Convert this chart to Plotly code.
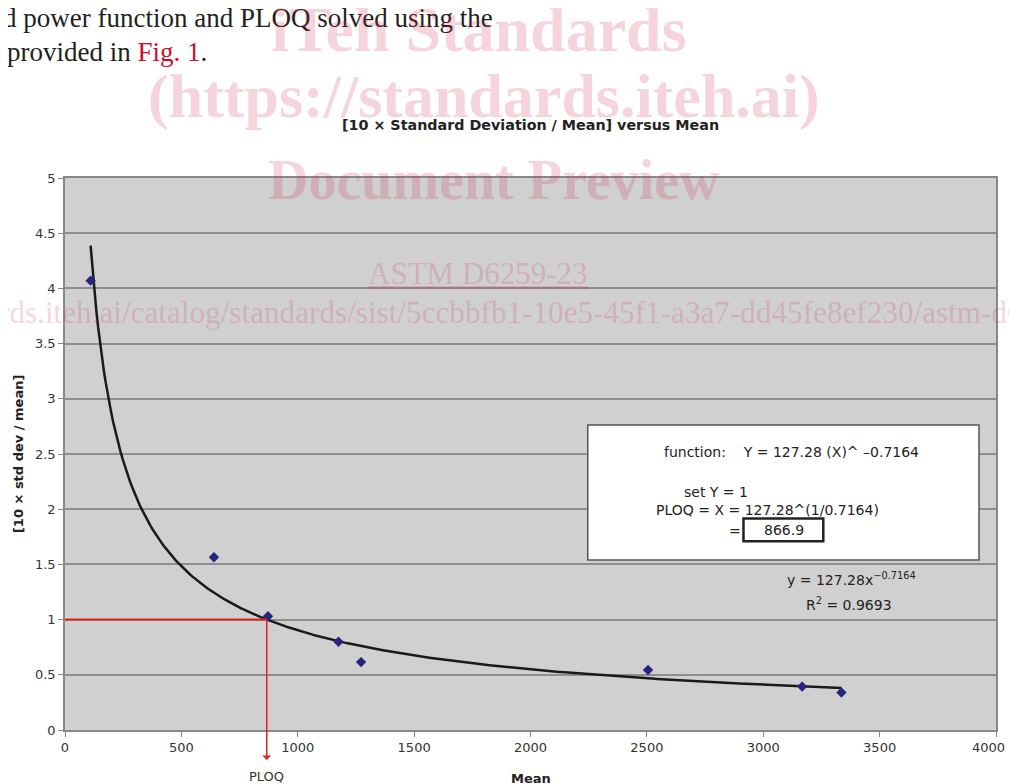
import numpy as np
import plotly.graph_objects as go

# Data
mean_vals = [110, 640, 872, 1175, 1272, 2505, 3167, 3336]
cv10_vals = [4.07, 1.565, 1.03, 0.80, 0.615, 0.543, 0.393, 0.340]

# Fitted power trendline stated on the chart: y = a * x^b
fit_a = 127.28
fit_b = -0.7164
ploq = 866.9

x_ticks = [0, 500, 1000, 1500, 2000, 2500, 3000, 3500, 4000]
x_tick_text = ["0", "500", "1000", "1500", "2000", "2500", "3000", "3500", ""]
last_x_label = "4000"
y_ticks = [0, 0.5, 1, 1.5, 2, 2.5, 3, 3.5, 4, 4.5, 5]

CHART_FONT = "DejaVu Sans"
SERIF = "Liberation Serif"

# Page has an 8px body margin; figure sized to fit the window
OFF = 8
W, H = 1001, 776
ML, MT, MR, MB = 57, 170, 11, 54
PW = W - ML - MR
PH = H - MT - MB


def px(sx):
    return (sx - OFF - ML) / PW


def py(sy):
    return 1 - (sy - OFF - MT) / PH


fig = go.Figure()

xs = np.linspace(min(mean_vals), max(mean_vals), 400)
fig.add_trace(go.Scatter(x=xs, y=fit_a * xs ** fit_b, mode="lines",
                         line=dict(color="#1a1a1a", width=2.5), showlegend=False,
                         hoverinfo="skip"))
fig.add_trace(go.Scatter(x=mean_vals, y=cv10_vals, mode="markers",
                         marker=dict(symbol="diamond", size=8, color="#252580"),
                         showlegend=False))

# Red PLOQ guide lines
fig.add_shape(type="line", x0=0, x1=ploq, y0=1, y1=1, xref="x", yref="y",
              line=dict(color="#e0231b", width=2))
fig.add_annotation(x=ploq, y=1, xref="x", yref="y", ax=0, ay=142, text="",
                   showarrow=True, arrowside="start", arrowhead=2, arrowsize=1.2,
                   arrowwidth=1.5, arrowcolor="#e0231b")

# White info box
fig.add_shape(type="rect", x0=2246, x1=3927, y0=1.54, y1=2.763, xref="x", yref="y",
              fillcolor="white", line=dict(color="#555", width=1.5))
fig.add_shape(type="rect", x0=2915, x1=3258, y0=1.71, y1=1.915, xref="x", yref="y",
              fillcolor="white", line=dict(color="#222", width=2.5))

box_font = dict(family=CHART_FONT, size=14, color="#222")
fig.add_annotation(x=3120, y=2.515, xref="x", yref="y", showarrow=False, font=box_font,
                   text="function:    Y = 127.28 (X)^ \u20130.7164")
fig.add_annotation(x=2795, y=2.155, xref="x", yref="y", showarrow=False, font=box_font,
                   text="set Y = 1")
fig.add_annotation(x=3020, y=1.99, xref="x", yref="y", showarrow=False, font=box_font,
                   text="PLOQ = X = 127.28^(1/0.7164)")
fig.add_annotation(x=2880, y=1.805, xref="x", yref="y", showarrow=False, font=box_font,
                   text="=")
fig.add_annotation(x=3087, y=1.81, xref="x", yref="y", showarrow=False, font=box_font,
                   text="866.9")

# Trendline equation
fig.add_annotation(x=3378, y=1.365, xref="x", yref="y", showarrow=False, font=box_font,
                   text="y = 127.28x<sup>\u22120.7164</sup>")
fig.add_annotation(x=3368, y=1.145, xref="x", yref="y", showarrow=False, font=box_font,
                   text="R<sup>2</sup> = 0.9693")

# Last x tick label (kept inside the page edge)
fig.add_annotation(x=px(1009), y=py(747), xref="paper", yref="paper", showarrow=False,
                   xanchor="right", yanchor="middle",
                   font=dict(family=CHART_FONT, size=13, color="#333"), text=last_x_label)

# Labels
fig.add_annotation(x=ploq, y=py(776), xref="x", yref="paper", showarrow=False,
                   yanchor="middle", font=dict(family=CHART_FONT, size=13, color="#333"),
                   text="PLOQ")
fig.add_annotation(x=2000, y=py(778), xref="x", yref="paper", showarrow=False,
                   yanchor="middle", font=dict(family=CHART_FONT, size=13, color="#222"),
                   text="<b>Mean</b>")
fig.add_annotation(x=px(18), y=0.5, xref="paper", yref="paper", showarrow=False,
                   xanchor="center", yanchor="middle", textangle=-90,
                   font=dict(family=CHART_FONT, size=13, color="#222"),
                   text="<b>[10 \u00d7 std dev / mean]</b>")
fig.add_annotation(x=px(532), y=py(125), xref="paper", yref="paper", showarrow=False,
                   xanchor="center", yanchor="middle",
                   font=dict(family=CHART_FONT, size=14.3, color="#222"),
                   text="<b>[10 \u00d7 Standard Deviation / Mean] versus Mean</b>")

# Document text above the chart
fig.add_annotation(x=px(1), y=py(18), xref="paper", yref="paper", showarrow=False,
                   xanchor="left", yanchor="middle",
                   font=dict(family=SERIF, size=27, color="#231f20"),
                   text="d power function and PLOQ solved using the")
fig.add_annotation(x=px(5), y=py(52), xref="paper", yref="paper", showarrow=False,
                   xanchor="left", yanchor="middle",
                   font=dict(family=SERIF, size=27, color="#231f20"),
                   text="provided in <span style='color:#c8102e'>Fig. 1</span>.")

# Watermarks
wm = "rgba(205,40,80,0.2)"
fig.add_annotation(x=px(480), y=py(30), xref="paper", yref="paper", showarrow=False,
                   xanchor="center", yanchor="middle",
                   font=dict(family=SERIF, size=64, color=wm), text="<b>iTeh Standards</b>")
fig.add_annotation(x=px(485), y=py(97), xref="paper", yref="paper", showarrow=False,
                   xanchor="center", yanchor="middle",
                   font=dict(family=SERIF, size=62, color=wm),
                   text="<b>(https://standards.iteh.ai)</b>")
fig.add_annotation(x=px(495), y=py(180), xref="paper", yref="paper", showarrow=False,
                   xanchor="center", yanchor="middle",
                   font=dict(family=SERIF, size=56, color=wm), text="<b>Document Preview</b>")
fig.add_annotation(x=px(479), y=py(273), xref="paper", yref="paper", showarrow=False,
                   xanchor="center", yanchor="middle",
                   font=dict(family=SERIF, size=31, color=wm), text="<u>ASTM D6259-23</u>")
fig.add_annotation(x=px(-3), y=py(312), xref="paper", yref="paper", showarrow=False,
                   xanchor="left", yanchor="middle",
                   font=dict(family=SERIF, size=31.2, color=wm),
                   text="rds.iteh.ai/catalog/standards/sist/5ccbbfb1-10e5-45f1-a3a7-dd45fe8ef230/astm-d6")

fig.update_layout(
    width=W, height=H,
    margin=dict(l=ML, r=MR, t=MT, b=MB),
    paper_bgcolor="white", plot_bgcolor="#d0d0d0",
    font=dict(family=CHART_FONT, size=13, color="#333"),
    xaxis=dict(range=[0, 4000], tickvals=x_ticks, ticktext=x_tick_text, showgrid=False,
               zeroline=False, showline=True, linecolor="#888", linewidth=1.5, mirror=True,
               ticks="outside", ticklen=5, tickcolor="#888"),
    yaxis=dict(range=[0, 5], tickvals=y_ticks, showgrid=True, gridcolor="#8e8e8e",
               gridwidth=2, zeroline=False, showline=True, linecolor="#888",
               linewidth=1.5, mirror=True, ticks="outside", ticklen=5, tickcolor="#888"),
)

fig.write_html("out.html")
